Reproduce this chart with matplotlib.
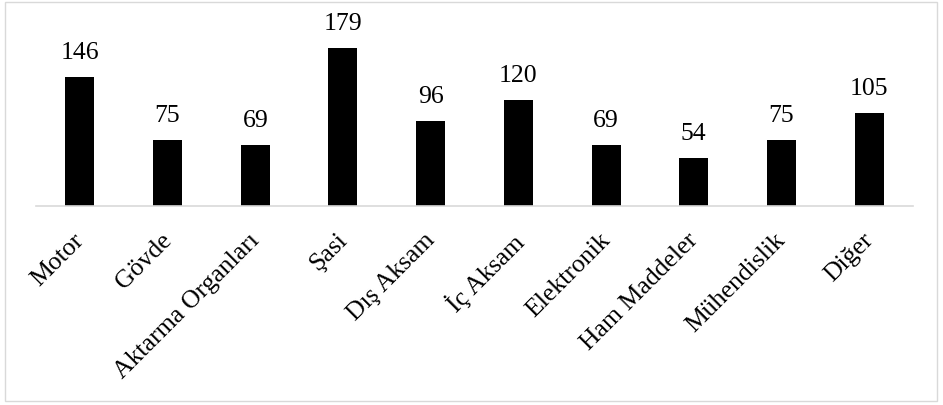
import matplotlib
matplotlib.use("Agg")
import matplotlib.pyplot as plt
import matplotlib.transforms as mtransforms
from matplotlib.patches import Rectangle

categories = ["Motor", "Gövde", "Aktarma Organları", "Şasi", "Dış Aksam", "İç Aksam",
              "Elektronik", "Ham Maddeler", "Mühendislik", "Diğer"]
values = [146, 75, 69, 179, 96, 120, 69, 54, 75, 105]

plt.rcParams['font.family'] = ['Liberation Serif', 'DejaVu Serif']

fig = plt.figure(figsize=(9.43, 4.06), dpi=100)
fig.patches.append(Rectangle((5/943, 1-402/406), 932/943, 399/406, transform=fig.transFigure,
                             fill=False, edgecolor='#d9d9d9', linewidth=1.0))

ax = fig.add_axes([36/943, 1-207/406, 877/943, 177/406])
x = list(range(len(categories)))
ax.bar(x, values, width=0.33, color='black')
ax.set_xlim(-0.5, len(categories)-0.5)
ax.set_ylim(0, 200)
for xi, v in zip(x, values):
    ax.annotate(str(v), (xi, v), xytext=(0, 10), textcoords='offset points',
                ha='center', va='bottom', fontsize=18.5)
for s in ['top', 'right', 'left']:
    ax.spines[s].set_visible(False)
ax.spines['bottom'].set_color('#d9d9d9')
ax.spines['bottom'].set_linewidth(1.2)
ax.set_yticks([])
ax.set_xticks(x)
ax.set_xticklabels(categories, rotation=45, ha='right', rotation_mode='anchor', fontsize=18.5)
ax.tick_params(axis='x', length=0, pad=8)
offset = mtransforms.ScaledTranslation(-0.07, -0.11, fig.dpi_scale_trans)
for lbl in ax.get_xticklabels():
    lbl.set_transform(lbl.get_transform() + offset)
fig.savefig("out.png", dpi=100)
